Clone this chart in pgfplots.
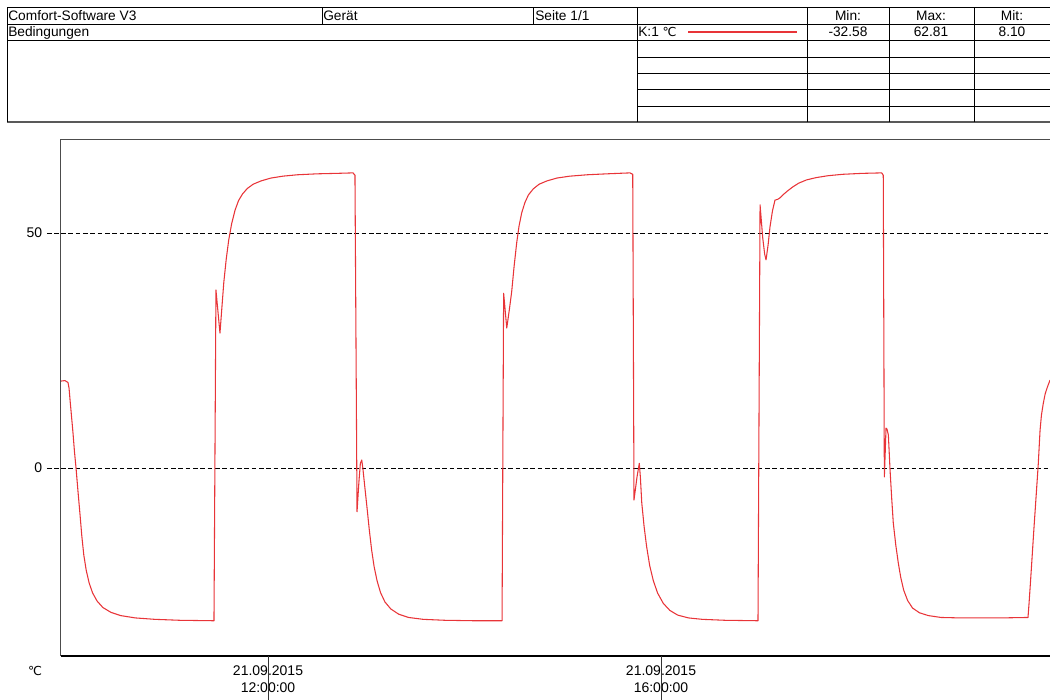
\documentclass[border=0pt]{standalone}
\usepackage{pgfplots}
\pgfplotsset{compat=1.18}
\usepackage{fontspec}
\setmainfont{Liberation Sans}
\newfontfamily\dejavu{DejaVu Sans}
\definecolor{curve}{RGB}{232,52,56}
\newcommand{\degC}{{\dejavu\fontsize{9.3}{11}\selectfont ℃}}
\begin{document}
\fontsize{10.3}{12}\selectfont
\begin{tikzpicture}
\useasboundingbox (0,0) rectangle (787.5pt,525pt);
\begin{axis}[
  at={(45.75pt,33pt)}, anchor=south west,
  scale only axis, width=741.75pt, height=387pt,
  xmin=9.893, xmax=19.959, ymin=-40, ymax=69.8,
  axis line style={draw=none},
  clip mode=individual,
  ytick={0,50}, xtick={12,16},
  xticklabels={{21.09.2015\\12:00:00},{21.09.2015\\16:00:00}},
  xticklabel style={align=center, font=\fontsize{10.5}{12.6}\selectfont, yshift=6.5pt},
  yticklabel style={font=\fontsize{10.5}{12}\selectfont},
  ymajorgrids,
  major grid style={black, dash pattern=on 3.5pt off 2pt, line width=0.6pt},
  tick align=outside, major tick length=10.5pt,
  ytick style={black, dash pattern=on 3.5pt off 2pt, line width=0.6pt},
  xtick style={draw=none},
  /pgf/number format/assume math mode=true,
]
\addplot[curve, line width=0.8pt, line join=round, mark=none] coordinates {
(9.893,18.5) (9.934,18.6) (9.964,18.2) (9.975,17) (9.985,14.5) (10.000,11)
(10.015,7.5) (10.030,3.5) (10.046,0) (10.066,-5) (10.087,-10) (10.105,-14.5)
(10.125,-18.5) (10.150,-21.8) (10.180,-24.5) (10.215,-26.6) (10.260,-28.3)
(10.320,-29.7) (10.400,-30.7) (10.500,-31.4) (10.650,-31.9) (10.850,-32.2)
(11.100,-32.4) (11.450,-32.5)
(11.470,37.9) (11.511,28.7) (11.530,34) (11.550,39.5) (11.575,44.5)
(11.600,48.5) (11.630,52) (11.665,54.9) (11.700,56.9) (11.740,58.3)
(11.790,59.5) (11.850,60.4) (11.930,61.1) (12.030,61.7) (12.150,62.1)
(12.300,62.4) (12.500,62.6) (12.700,62.7) (12.865,62.8)
(12.885,62.3) (12.906,-9.3) (12.925,-3) (12.940,1.0) (12.954,1.7)
(12.965,0) (12.985,-4) (13.008,-8.5) (13.030,-13) (13.055,-17.5)
(13.080,-21) (13.110,-24) (13.145,-26.5) (13.190,-28.5) (13.250,-30)
(13.330,-31.1) (13.430,-31.8) (13.580,-32.2) (13.800,-32.4) (14.100,-32.5)
(14.382,-32.5)
(14.398,37.2) (14.430,29.8) (14.455,33.5) (14.480,37.5) (14.505,43)
(14.531,47.9) (14.555,51.5) (14.582,54.3) (14.615,56.5) (14.650,58.1)
(14.700,59.4) (14.760,60.4) (14.840,61.1) (14.940,61.7) (15.070,62.1)
(15.250,62.4) (15.450,62.6) (15.684,62.8) (15.712,62.5)
(15.725,-6.8) (15.755,-2) (15.779,1.0) (15.790,-2) (15.804,-7.4)
(15.828,-12.5) (15.854,-16.8) (15.885,-20.8) (15.922,-24) (15.965,-26.6)
(16.023,-28.8) (16.090,-30.3) (16.170,-31.3) (16.280,-31.9) (16.420,-32.2)
(16.650,-32.4) (16.987,-32.5)
(17.008,56.0) (17.035,49) (17.055,45.5) (17.069,44.3) (17.090,47.5)
(17.109,51.3) (17.135,54.8) (17.160,57.0) (17.190,57.2) (17.211,57.5)
(17.245,58.2) (17.290,59) (17.340,59.8) (17.400,60.6) (17.480,61.3)
(17.580,61.8) (17.700,62.2) (17.850,62.5) (18.050,62.7) (18.246,62.8)
(18.262,62.3)
(18.273,-1.9) (18.283,4) (18.290,8.5) (18.300,8.3) (18.314,7.0)
(18.331,-0.4) (18.348,-6.5) (18.364,-11.7) (18.390,-16.5) (18.415,-20.2)
(18.440,-23.3) (18.470,-26) (18.510,-28.2) (18.560,-29.8) (18.630,-30.8)
(18.720,-31.4) (18.850,-31.8) (19.050,-31.9) (19.450,-31.9) (19.735,-31.8)
(19.745,-29) (19.758,-25) (19.773,-20.2) (19.795,-13) (19.817,-6.2)
(19.840,1.0) (19.850,5) (19.858,8.1) (19.872,11.3) (19.891,13.8)
(19.910,15.8) (19.932,17.2) (19.959,18.7)
};
\draw[black!70, line width=0.75pt] (rel axis cs:0,0) -- (rel axis cs:0,1) -- (rel axis cs:1,1);
\draw[black, line width=1.5pt] (rel axis cs:0,0) -- (rel axis cs:1,0);
\draw[black!80, line width=0.6pt] (axis cs:12,-40) -- ++(0pt,-33pt);
\draw[black!80, line width=0.6pt] (axis cs:16,-40) -- ++(0pt,-33pt);
\end{axis}
\begin{scope}[x=0.75pt,y=-0.75pt,shift={(0pt,525pt)}]
  % header lines
  \draw[line width=0.75pt] (7,7.5) -- (1050,7.5);
  \draw[line width=0.6pt] (7,24) -- (1050,24);
  \draw[line width=0.6pt] (7,40.5) -- (1050,40.5);
  \foreach \yy in {57,73,89,106} \draw[line width=0.6pt] (637,\yy) -- (1050,\yy);
  \draw[black!65, line width=1.5pt] (7,122.5) -- (1050,122.5);
  \draw[line width=0.75pt] (7,7.5) -- (7,122.5);
  \draw[line width=0.75pt] (322,7.5) -- (322,24);
  \draw[line width=0.75pt] (533,7.5) -- (533,24);
  \foreach \xx in {637,807,889,974} \draw[line width=0.75pt] (\xx,7.5) -- (\xx,122.5);
  % header texts
  \node[anchor=base west, inner sep=0] at (8,20.5) {Comfort-Software V3};
  \node[anchor=base west, inner sep=0] at (323,20.5) {Gerät};
  \node[anchor=base west, inner sep=0] at (535,20.5) {Seite 1/1};
  \node[anchor=base, inner sep=0] at (848,20.5) {Min:};
  \node[anchor=base, inner sep=0] at (931,20.5) {Max:};
  \node[anchor=base, inner sep=0] at (1012,20.5) {Mit:};
  \node[anchor=base west, inner sep=0] at (8,37) {Bedingungen};
  \node[anchor=base west, inner sep=0] at (638,37) {K:1 \degC};
  \draw[curve, line width=0.8pt] (688,32) -- (797,32);
  \node[anchor=base, inner sep=0] at (848,37) {-32.58};
  \node[anchor=base, inner sep=0] at (931,37) {62.81};
  \node[anchor=base, inner sep=0] at (1012,37) {8.10};
  \node[anchor=base, inner sep=0] at (35,675) {\degC};
\end{scope}
\end{tikzpicture}
\end{document}
